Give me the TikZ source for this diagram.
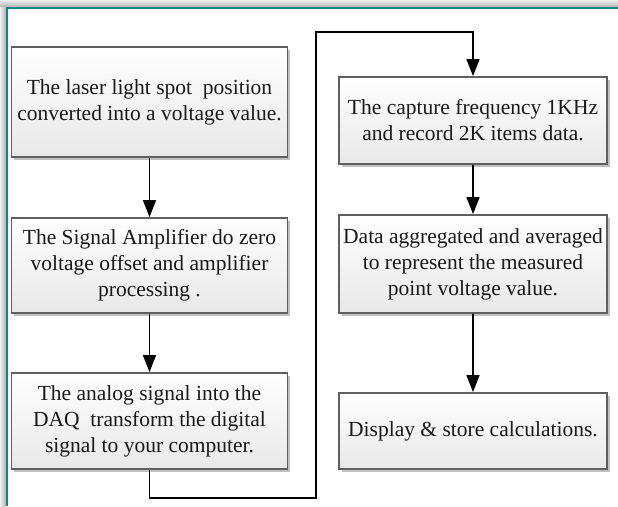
\documentclass[tikz,border=0pt]{standalone}
\usepackage{fontspec}
\setmainfont{Liberation Serif}
\usetikzlibrary{arrows.meta,shadows}
\definecolor{frameteal}{RGB}{22,134,128}
\definecolor{boxline}{RGB}{95,95,95}
\begin{document}
\begin{tikzpicture}[x=1pt,y=-1pt,
  stepbox/.style={draw=boxline,line width=1.8pt,shading=axis,top color=white,bottom color=black!9,
    drop shadow={shadow xshift=2.5pt,shadow yshift=-2.5pt,fill=black!45,opacity=.55},
    align=center,inner sep=2pt,text=black!90,font=\fontsize{21.5}{26}\selectfont},
  arr/.style={line width=1.5pt,-{Triangle[length=17pt,width=13pt]}}]
\useasboundingbox (0,0) rectangle (618,506);
% outer frame with its shadow
\shade[top color=black!6,bottom color=black!30] (0,0) rectangle (618,7);
\shade[left color=black!6,right color=black!30] (0,7) rectangle (6,506);
\draw[frameteal,line width=2.5pt] (7.2,506) -- (7.2,8.2) -- (618,8.2);
% left column
\node[stepbox,minimum width=276pt,minimum height=110pt] (laser) at (149.5,102)
  {The laser light spot\ \ position\\converted into a voltage value.};
\node[stepbox,minimum width=276pt,minimum height=95pt] (amp) at (149.5,265.5)
  {The Signal Amplifier do zero\\voltage offset and amplifier\\processing .};
\node[stepbox,minimum width=276pt,minimum height=96pt] (daq) at (149.5,421)
  {The analog signal into the\\DAQ\ \ transform the digital\\signal to your computer.};
% right column
\node[stepbox,minimum width=268pt,minimum height=87pt] (capture) at (473,120.5)
  {The capture frequency 1KHz\\and record 2K items data.};
\node[stepbox,minimum width=268pt,minimum height=98pt] (average) at (473,264)
  {Data aggregated and averaged\\to represent the measured\\point voltage value.};
\node[stepbox,minimum width=268pt,minimum height=76pt] (display) at (473,431)
  {Display \& store calculations.};
\coordinate (turnA) at (316,498);
\coordinate (turnB) at (473,32);
% connectors
\draw[arr] (laser) -- (amp);
\draw[arr] (amp) -- (daq);
\draw[arr] (daq.south) |- (turnA) |- (turnB) -- (capture.north);
\draw[arr] (capture) -- (average);
\draw[arr] (average) -- (display);
\end{tikzpicture}
\end{document}
